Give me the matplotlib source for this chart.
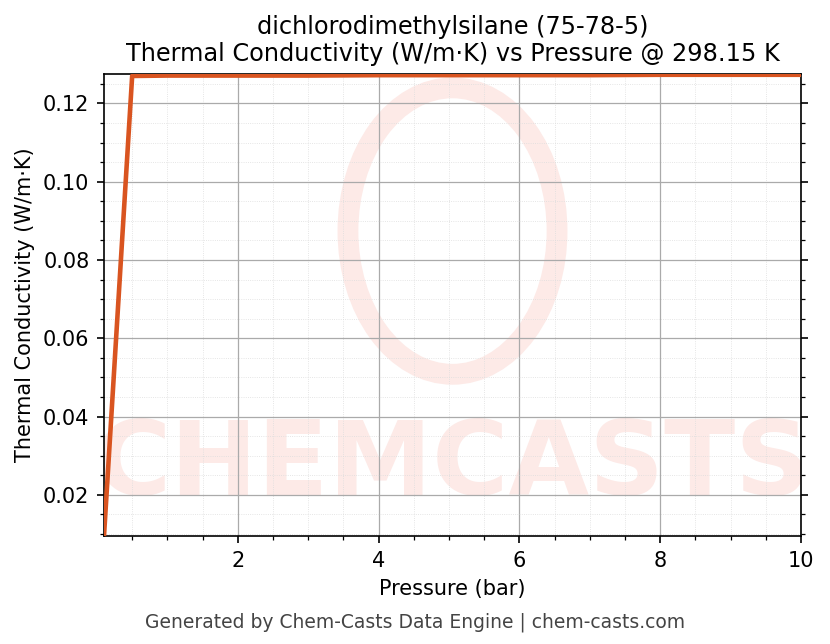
import matplotlib
matplotlib.use("Agg")
import matplotlib.pyplot as plt
from matplotlib.patches import Ellipse

pressure = [0.1, 0.5, 1, 2, 3, 4, 5, 6, 7, 8, 9, 10]
conductivity = [0.0095, 0.1270, 0.1271, 0.1271, 0.1271, 0.1272, 0.1272, 0.1272, 0.1272, 0.1273, 0.1273, 0.1273]

fig = plt.figure(figsize=(830/150, 644/150), dpi=150)
ax = fig.add_axes([104/830, 1-536/644, (801-104)/830, (536-74)/644])

# watermark
ax.text(0.5, 0.15, "CHEMCASTS", transform=ax.transAxes, ha="center", va="center",
        fontsize=50, fontweight="bold", color="#fdeae7", zorder=0, clip_on=True)
ax.add_patch(Ellipse((0.5, 0.66), 0.3, 0.62, transform=ax.transAxes, fill=False,
                     lw=10, ec="#fdeae7", zorder=0))

ax.plot(pressure, conductivity, color="#d95420", lw=2.2, zorder=3)
ax.set_xlim(0.1, 10)
ax.set_ylim(0.0095, 0.1275)
ax.set_xticks([2, 4, 6, 8, 10])
ax.set_yticks([0.02, 0.04, 0.06, 0.08, 0.10, 0.12])
ax.minorticks_on()
ax.grid(True, which="major", color="#aaaaaa", lw=0.6)
ax.grid(True, which="minor", color="#dddddd", lw=0.4, ls=":")
ax.tick_params(which="both", right=True, top=False)
ax.set_xlabel("Pressure (bar)")
ax.set_ylabel("Thermal Conductivity (W/m·K)")
ax.set_title("dichlorodimethylsilane (75-78-5)\nThermal Conductivity (W/m·K) vs Pressure @ 298.15 K", fontsize=11.5)
fig.text(0.5, 0.025, "Generated by Chem-Casts Data Engine | chem-casts.com", ha="center",
         fontsize=9, color="#444444")
fig.savefig("out.png", dpi=150)
